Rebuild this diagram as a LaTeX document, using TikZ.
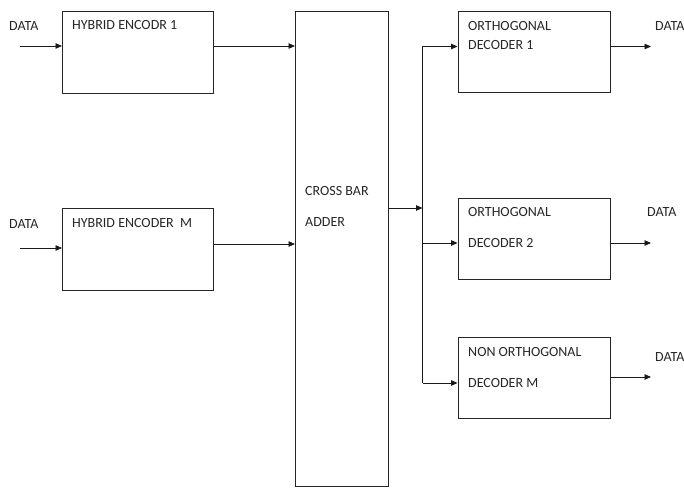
\documentclass[tikz,border=0pt]{standalone}
\usepackage{fontspec}
\setmainfont{Carlito}
\usetikzlibrary{arrows.meta}
\begin{document}
\begin{tikzpicture}[x=1pt,y=-1pt,
  box/.style={draw=black!85, line width=0.8pt, rectangle, anchor=north west, inner sep=0pt},
  lbl/.style={anchor=west, inner sep=0pt, font=\fontsize{14}{16}\selectfont, text=black!85},
  arr/.style={draw=black!90, line width=0.8pt, -{Triangle[length=6.5pt,width=5.5pt]}},
  ln/.style={draw=black!90, line width=0.8pt}]
\useasboundingbox (0,0) rectangle (684,487);
% boxes
\node[box, minimum width=151pt, minimum height=81pt] (enc1) at (62,11.5) {};
\node[box, minimum width=151pt, minimum height=82pt] (encM) at (62,208) {};
\node[box, minimum width=93pt, minimum height=475pt] (cb) at (295,11) {};
\node[box, minimum width=152pt, minimum height=80.5pt] (dec1) at (457.5,11.5) {};
\node[box, minimum width=152pt, minimum height=81pt] (dec2) at (457.5,197.5) {};
\node[box, minimum width=152pt, minimum height=81pt] (decM) at (457.5,337) {};
% texts
\node[lbl] (d1) at (9,26) {DATA};
\node[lbl] (d2) at (9,224) {DATA};
\node[lbl] (t1) at (72,25) {HYBRID ENCODR 1};
\node[lbl] (t2) at (72,223) {HYBRID ENCODER\ \ M};
\node[lbl] (t3) at (305,191) {CROSS BAR};
\node[lbl] (t4) at (305,222) {ADDER};
\node[lbl] (t5) at (468,26.5) {ORTHOGONAL};
\node[lbl] (t6) at (468,45.5) {DECODER 1};
\node[lbl] (t7) at (468,212) {ORTHOGONAL};
\node[lbl] (t8) at (468,243) {DECODER 2};
\node[lbl] (t9) at (468,352) {NON ORTHOGONAL};
\node[lbl] (t10) at (468,383) {DECODER M};
\node[lbl] (o1) at (655,26.5) {DATA};
\node[lbl] (o2) at (647,212) {DATA};
\node[lbl] (o3) at (655,357) {DATA};
% free ends
\coordinate (in1) at (20,46);
\coordinate (inM) at (20,248);
\coordinate (bustop) at (422.5,46.5);
\coordinate (busbot) at (422.5,383);
\coordinate (busmid) at (422.5,208);
\coordinate (out1) at (651,46.5);
\coordinate (out2) at (651,243);
\coordinate (outM) at (651,377);
% connectors
\draw[arr] (in1) -- (in1 -| enc1.west);
\draw[arr] (inM) -- (inM -| encM.west);
\draw[arr] (enc1.east |- in1) -- (cb.west |- in1);
\draw[arr] (encM.east |- 0,244) -- (cb.west |- 0,244);
\draw[arr] (cb.east |- busmid) -- (busmid);
\draw[ln] (bustop) -- (busbot);
\draw[arr] (bustop) -- (bustop -| dec1.west);
\draw[arr] (bustop |- out2) -- (out2 -| dec2.west);
\draw[arr] (busbot) -- (busbot -| decM.west);
\draw[arr] (dec1.east |- out1) -- (out1);
\draw[arr] (dec2.east |- out2) -- (out2);
\draw[arr] (decM.east |- outM) -- (outM);
\end{tikzpicture}
\end{document}
